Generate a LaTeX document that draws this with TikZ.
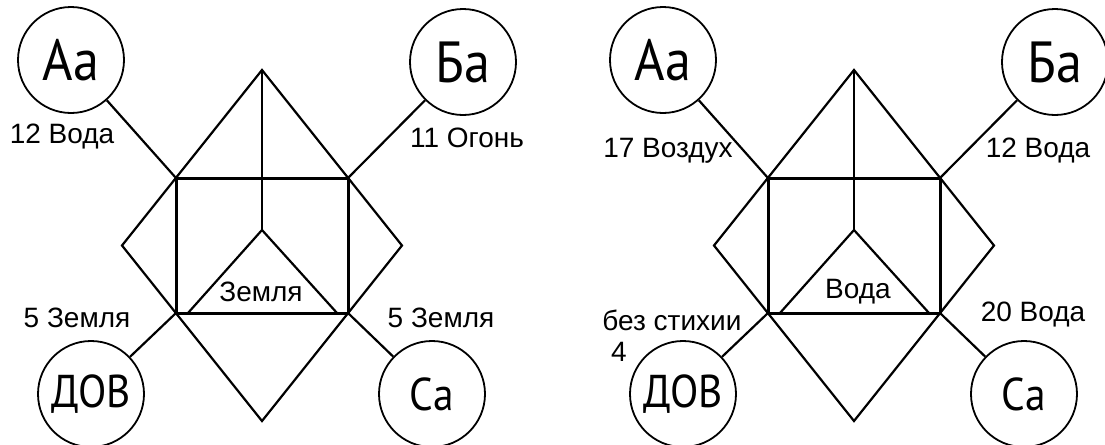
\documentclass[tikz,border=0pt]{standalone}
\usepackage{fontspec}
\setmainfont{Liberation Sans}
\newfontfamily\circfont[FakeStretch=0.9]{PT Sans}
\begin{document}
\begin{tikzpicture}[x=0.5pt,y=-0.5pt,
    circ/.style={draw,circle,line width=0.9pt,minimum size=53pt,inner sep=0pt,
      font=\circfont\fontsize{29}{29}\selectfont},
    smallcirc/.style={circ,font=\circfont\fontsize{23}{23}\selectfont},
    lab/.style={inner sep=0pt,font=\fontsize{14}{14}\selectfont},
    diam/.style={line width=1.1pt},
    box/.style={line width=1.5pt},
    link/.style={line width=1.1pt}]
  \useasboundingbox (0,0) rectangle (1105,445);
  % the two figures differ only by their shift
  \foreach \dx/\p in {0/l,592/r} {
    \begin{scope}[shift={(\dx,0)}]
      \coordinate (\p-t) at (262,70);
      \coordinate (\p-l) at (122,245.5);
      \coordinate (\p-b) at (262,421);
      \coordinate (\p-r) at (402,245.5);
      \coordinate (\p-tl) at (176,178);
      \coordinate (\p-tr) at (348,178);
      \coordinate (\p-bl) at (176,313);
      \coordinate (\p-br) at (348,313);
      \coordinate (\p-tri) at (262,230);
      \coordinate (\p-tril) at (188,313);
      \coordinate (\p-trir) at (337,313);
      \node[circ] (\p-Aa) at (71,60) {Аа};
      \node[circ] (\p-Ba) at (463,62) {Ба};
      \node[smallcirc] (\p-DOV) at (91,394) {ДОВ};
      \node[smallcirc] (\p-Sa) at (432,394) {Са};
      \draw[diam] (\p-t) -- (\p-l) -- (\p-b) -- (\p-r) -- cycle;
      \draw[box] (\p-tl) rectangle (\p-br);
      \draw[diam] (\p-t) -- (\p-tri);
      \draw[diam] (\p-tril) -- (\p-tri) -- (\p-trir);
      \draw[link] (\p-Aa) -- (\p-tl);
      \draw[link] (\p-Ba) -- (\p-tr);
      \draw[link] (\p-DOV) -- (\p-bl);
      \draw[link] (\p-Sa) -- (\p-br);
    \end{scope}
  }
  % left figure
  \node[lab] (l-voda) at (62,137) {12 Вода};
  \node[lab] (l-ogon) at (467,138) {11 Огонь};
  \node[lab] (l-zem1) at (77,318) {5 Земля};
  \node[lab] (l-zem2) at (441,318) {5 Земля};
  \node[lab] (l-zem) at (261,292) {Земля};
  % right figure
  \node[lab] (r-vozd) at (668,151) {17 Воздух};
  \node[lab] (r-voda1) at (1038,151) {12 Вода};
  \node[lab] (r-bez) at (672,320) {без стихии};
  \node[lab] (r-four) at (619,352) {4};
  \node[lab] (r-voda2) at (1033,315) {20 Вода};
  \node[lab] (r-voda) at (858,292) {Вода};
\end{tikzpicture}
\end{document}
